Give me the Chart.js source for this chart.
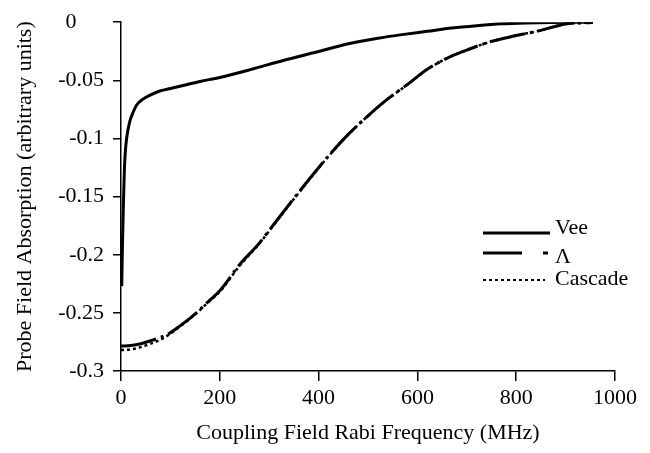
<!DOCTYPE html>
<html>
<head>
<meta charset="utf-8">
<script src="https://cdn.jsdelivr.net/npm/chart.js@4/dist/chart.umd.min.js"></script>
<style>
html, body { margin: 0; padding: 0; background: #fff; }
#wrap { width: 650px; height: 453px; }
</style>
</head>
<body>
<div id="wrap"><canvas id="chart"></canvas></div>
<script>
// values
const veeX = [1.5, 3, 5, 7, 10, 14, 18, 25, 32, 45, 60, 80, 100, 130, 160, 200, 260, 330, 400, 460, 520, 565, 620, 670, 720, 770, 820, 870, 955];
const veeY = [-0.227, -0.19, -0.155, -0.125, -0.105, -0.093, -0.085, -0.077, -0.071, -0.066, -0.0625, -0.059, -0.057, -0.054, -0.051, -0.0475, -0.041, -0.0327, -0.0252, -0.0185, -0.0138, -0.0109, -0.0078, -0.005, -0.003, -0.0014, -0.0006, -0.0002, 0];

const lambdaX = [0, 20, 40, 60, 80, 100, 120, 140, 160, 180, 200, 240, 280, 300, 340, 380, 420, 460, 500, 540, 580, 620, 660, 700, 750, 800, 850, 880, 900, 930, 955];
const lambdaY = [-0.2786, -0.278, -0.2765, -0.274, -0.271, -0.267, -0.261, -0.2545, -0.247, -0.239, -0.231, -0.2085, -0.19, -0.179, -0.157, -0.1355, -0.115, -0.0965, -0.0805, -0.066, -0.0535, -0.0405, -0.031, -0.024, -0.0165, -0.0115, -0.007, -0.0035, -0.0015, -0.0006, -0.0003];

const cascadeX = [0, 20, 40, 60, 80, 100, 120, 140, 160, 180, 200, 240, 280, 300, 340, 380, 420, 460, 500, 540, 580, 620, 660, 700, 750, 800, 850, 880, 900, 930, 955];
const cascadeY = [-0.282, -0.2815, -0.2795, -0.2765, -0.273, -0.268, -0.2615, -0.2548, -0.2475, -0.2395, -0.2318, -0.2095, -0.1905, -0.1795, -0.1575, -0.136, -0.1153, -0.0967, -0.0806, -0.0661, -0.0536, -0.0406, -0.031, -0.024, -0.0165, -0.0115, -0.007, -0.0035, -0.0015, -0.0006, -0.0003];

const xTicks = [0, 200, 400, 600, 800, 1000];
const yTicks = [0, -0.05, -0.1, -0.15, -0.2, -0.25, -0.3];

const serif = '"Liberation Serif", "Times New Roman", serif';

function pts(xs, ys) {
    return xs.map((x, i) => ({ x: x, y: ys[i] }));
}

const legendItems = [
    { label: 'Vee', lineY: 233, textY: 228, dash: [], width: 3, len: 67 },
    { label: 'Λ', lineY: 253, textY: 257, dash: [39, 21, 5, 100], width: 3, len: 65 },
    { label: 'Cascade', lineY: 280, textY: 279, dash: [3, 3], width: 2, len: 62 }
];

const inlineLegend = {
    id: 'inlineLegend',
    afterDraw(chart) {
        const ctx = chart.ctx;
        ctx.save();
        ctx.strokeStyle = '#000';
        ctx.fillStyle = '#000';
        ctx.font = '22px ' + serif;
        ctx.textBaseline = 'middle';
        legendItems.forEach(item => {
            ctx.lineWidth = item.width;
            ctx.setLineDash(item.dash);
            ctx.beginPath();
            ctx.moveTo(483, item.lineY);
            ctx.lineTo(483 + item.len, item.lineY);
            ctx.stroke();
            ctx.setLineDash([]);
            ctx.fillText(item.label, 555, item.textY);
        });
        ctx.restore();
    }
};

new Chart(document.getElementById('chart'), {
    type: 'scatter',
    data: {
        datasets: [
            {
                label: 'Vee',
                data: pts(veeX, veeY),
                showLine: true,
                borderColor: '#000',
                borderWidth: 3,
                pointRadius: 0,
                cubicInterpolationMode: 'monotone'
            },
            {
                label: 'Λ',
                data: pts(lambdaX, lambdaY),
                showLine: true,
                borderColor: '#000',
                borderWidth: 3,
                borderDash: [36, 5, 3, 5],
                pointRadius: 0,
                cubicInterpolationMode: 'monotone'
            },
            {
                label: 'Cascade',
                data: pts(cascadeX, cascadeY),
                showLine: true,
                borderColor: '#000',
                borderWidth: 2.5,
                borderDash: [3, 3],
                pointRadius: 0,
                cubicInterpolationMode: 'monotone'
            }
        ]
    },
    options: {
        responsive: true,
        maintainAspectRatio: false,
        animation: false,
        layout: { padding: { top: 20, right: 35, left: 0, bottom: 0 } },
        plugins: {
            legend: { display: false },
            tooltip: { enabled: false }
        },
        scales: {
            x: {
                type: 'linear',
                min: 0,
                max: 1000,
                afterFit: s => { s.height = 82; },
                afterBuildTicks: s => { s.ticks = xTicks.map(v => ({ value: v })); },
                ticks: { color: '#000', font: { family: serif, size: 22 }, padding: 4, callback: v => String(v) },
                grid: { drawOnChartArea: false, tickLength: 10, color: '#000', lineWidth: 1.5 },
                border: { color: '#000', width: 1.5 },
                title: {
                    display: true,
                    text: 'Coupling Field Rabi Frequency (MHz)',
                    color: '#000',
                    font: { family: serif, size: 22 },
                    padding: { top: 0, bottom: 7 }
                }
            },
            y: {
                min: -0.3,
                max: 0,
                afterFit: s => { s.width = 121; },
                afterBuildTicks: s => { s.ticks = yTicks.map(v => ({ value: v })); },
                // the top "0" sits further left in the original
                ticks: { color: '#000', font: { family: serif, size: 22 }, padding: 9, callback: v => v === 0 ? '0     ' : String(v) },
                grid: { drawOnChartArea: false, tickLength: 8, color: '#000', lineWidth: 1.5 },
                border: { color: '#000', width: 1.5 },
                title: {
                    display: true,
                    text: 'Probe Field Absorption (arbitrary units)',
                    color: '#000',
                    font: { family: serif, size: 22 },
                    padding: { top: 12, bottom: 0 }
                }
            }
        }
    },
    plugins: [inlineLegend]
});
</script>
</body>
</html>
